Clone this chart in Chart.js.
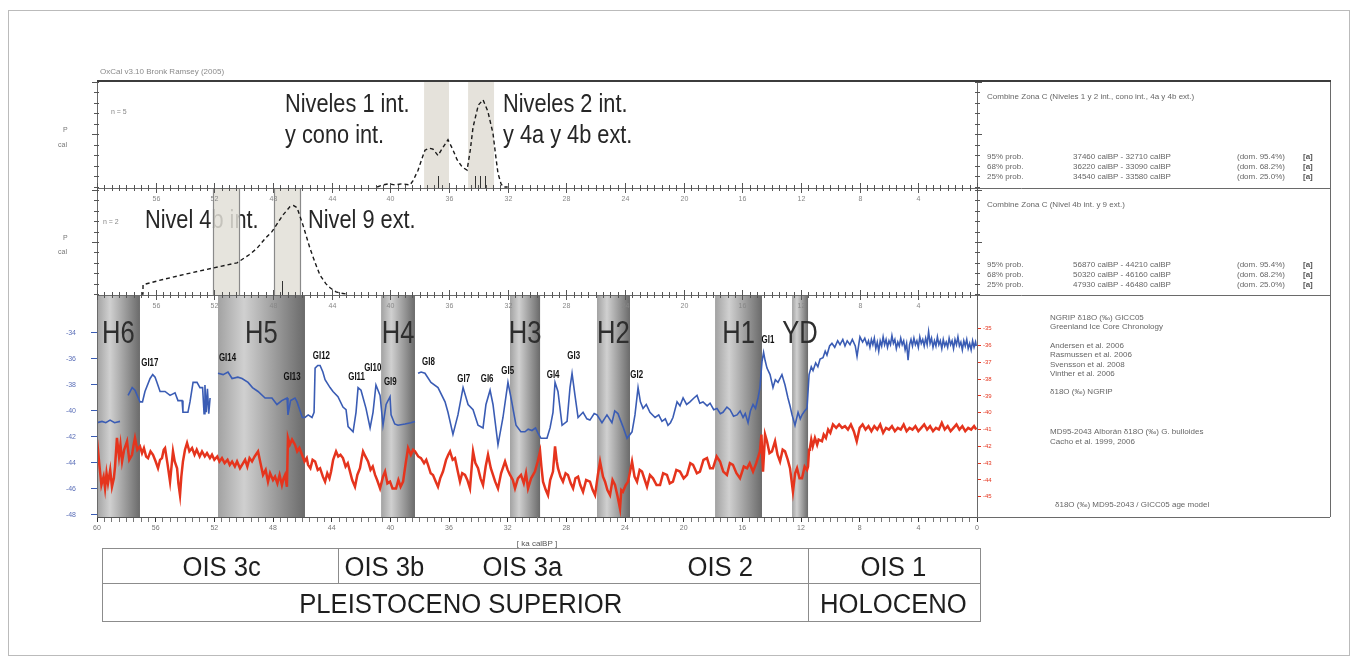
<!DOCTYPE html>
<html><head><meta charset="utf-8">
<script src="https://cdn.jsdelivr.net/npm/chart.js@4.4.1/dist/chart.umd.min.js"></script>
<style>html,body{margin:0;padding:0;background:#fff}canvas{display:block}</style>
</head><body>
<canvas id="c" width="1358" height="664"></canvas>
<script>
// ---------------- DATA ----------------
// NGRIP-type d18O (blue, left axis) : [age ka cal BP, value]
const blueSeries = [
[60.0,-40.9],[59.66,-40.8],[59.4,-40.9],[59.11,-40.7],[58.8,-40.9],[58.43,-40.8],[58.2,null],
[57.88,-38.8],[57.6,-38.2],[57.41,-38.4],[57.07,-39.3],[56.9,-39.3],[56.73,-38.5],[56.38,-37.5],[56.2,-37.2],[56.04,-37.4],[55.91,-37.8],[55.7,-38.5],[55.36,-38.5],[55.02,-38.8],[54.68,-38.6],[54.48,-39.2],[54.2,-39.2],[54.14,-40.1],[53.8,-40.1],[53.66,-39.3],[53.45,-37.8],[53.18,-37.8],[52.98,-38.2],[52.8,-38.2],[52.7,-40.2],[52.64,-38.0],[52.55,-40.1],[52.47,-38.3],[52.38,-40.2],[52.29,-39.0],[52.0,null],
[51.75,-37.1],[51.4,-37.2],[51.07,-37.0],[50.79,-37.5],[50.4,-37.4],[50.11,-37.5],[49.7,-37.8],[49.4,-38.2],[49.02,-38.5],[48.54,-39.0],[48.07,-39.0],[47.73,-39.5],[47.4,-39.2],[47.04,-39.0],[46.98,-40.3],[46.8,-39.2],[46.5,-39.0],[46.36,-39.3],[46.0,-40.5],[45.82,-40.5],[45.6,-40.3],[45.34,-40.5],[45.2,-40.1],[45.13,-36.7],[44.95,-36.5],[44.79,-36.5],[44.6,-37.0],[44.45,-37.6],[44.11,-38.2],[43.91,-38.5],[43.57,-38.9],[43.23,-39.7],[43.02,-39.9],[42.88,-41.2],[42.54,-41.6],[42.34,-40.1],[42.2,-38.2],[42.0,-38.4],[41.66,-39.8],[41.38,-41.3],[41.18,-40.1],[40.98,-38.0],[40.7,-38.8],[40.5,-41.1],[40.29,-39.5],[40.02,-38.9],[39.95,-40.3],[39.7,-41.0],[39.48,-41.1],[39.0,-41.0],[38.6,-40.9],[38.32,-40.8],[38.2,null],
[38.11,-37.1],[37.9,-37.0],[37.64,-37.1],[37.23,-37.8],[36.75,-38.2],[36.27,-39.3],[36.07,-40.1],[35.73,-41.8],[35.39,-40.3],[35.04,-38.2],[34.7,-39.5],[34.36,-39.9],[34.02,-41.1],[33.68,-41.3],[33.48,-39.5],[33.2,-38.4],[33.0,-39.5],[32.66,-42.6],[32.32,-40.5],[31.98,-37.8],[31.77,-39.0],[31.43,-41.1],[31.1,-41.6],[30.82,-41.6],[30.6,-41.4],[30.34,-41.5],[30.1,-41.3],[29.93,-41.7],[29.73,-42.1],[29.32,-42.1],[29.11,-41.3],[28.91,-40.1],[28.77,-37.8],[28.57,-38.5],[28.29,-41.1],[27.95,-40.8],[27.75,-38.2],[27.61,-37.1],[27.41,-38.8],[27.2,-40.5],[26.86,-40.1],[26.6,-40.6],[26.39,-40.7],[26.1,-40.2],[25.91,-40.3],[25.57,-40.9],[25.23,-40.3],[24.89,-40.9],[24.7,-40.0],[24.48,-40.2],[24.14,-41.2],[23.86,-42.1],[23.52,-41.6],[23.32,-40.3],[23.11,-38.2],[22.95,-39.3],[22.77,-39.8],[22.55,-39.5],[22.3,-40.1],[21.95,-40.5],[21.7,-40.3],[21.48,-40.8],[21.25,-40.6],[21.07,-41.1],[20.9,-40.9],[20.73,-40.5],[20.45,-39.3],[20.25,-39.6],[20.04,-39.0],[19.8,-39.5],[19.57,-39.3],[19.3,-39.0],[19.09,-38.8],[18.9,-39.4],[18.68,-39.3],[18.4,-39.6],[18.2,-39.4],[17.95,-39.9],[17.73,-39.8],[17.5,-40.2],[17.32,-40.1],[17.05,-39.7],[16.84,-39.9],[16.6,-40.4],[16.36,-40.3],[16.15,-40.0],[15.95,-40.5],[15.8,-40.2],[15.61,-40.9],[15.45,-40.0],[15.27,-39.5],[15.1,-39.8],[14.93,-39.0],[14.8,-38.2],[14.66,-36.2],[14.55,-35.5],[14.45,-36.1],[14.32,-36.7],[14.11,-37.2],[13.91,-38.2],[13.75,-37.6],[13.57,-37.8],[13.3,-37.2],[13.09,-38.0],[12.89,-39.0],[12.75,-39.6],[12.61,-40.3],[12.41,-41.1],[12.2,-40.1],[12.05,-40.6],[11.93,-40.3],[11.75,-40.0],[11.59,-39.8],[11.45,-37.2],
[11.3,-36.6],[11.18,-36.9],[11.0,-36.3],[10.85,-36.6],[10.7,-36.0],[10.5,-35.9],[10.35,-35.4],[10.23,-35.7],[10.05,-35.0],[9.89,-34.8],[9.7,-35.1],[9.5,-34.6],[9.34,-34.9],[9.15,-34.5],[9.0,-35.0],[8.85,-34.6],[8.66,-34.9],[8.5,-34.5],[8.3,-35.0],[8.18,-35.8],[8.05,-34.8],[7.98,-34.3],[7.8,-34.7],[7.65,-34.4],[7.5,-34.9],
[7.4,-34.6],[7.3,-35.1],[7.2,-34.5],[7.1,-34.9],[7.0,-34.4],[6.9,-35.2],[6.8,-34.7],[6.7,-35.4],[6.6,-34.6],[6.5,-35.0],[6.4,-34.3],[6.3,-34.9],[6.2,-34.5],[6.1,-35.1],[6.0,-34.6],[5.9,-34.9],[5.8,-34.2],[5.7,-34.8],[5.6,-34.5],[5.5,-35.2],[5.4,-34.7],[5.3,-35.0],[5.2,-34.4],[5.1,-34.9],[5.0,-34.6],[4.9,-35.3],[4.8,-34.8],[4.7,-36.1],[4.6,-34.9],[4.5,-34.5],[4.4,-35.0],[4.3,-34.4],[4.2,-34.9],[4.1,-34.6],[4.0,-35.1],[3.9,-34.3],[3.8,-34.8],[3.7,-34.5],[3.6,-35.0],[3.5,-34.4],[3.4,-34.9],[3.3,-33.9],[3.2,-34.8],[3.1,-34.4],[3.0,-35.1],[2.9,-34.6],[2.8,-35.0],[2.7,-34.3],[2.6,-34.9],[2.5,-34.6],[2.4,-35.2],[2.3,-34.5],[2.2,-35.0],[2.1,-34.7],[2.0,-35.1],[1.9,-34.4],[1.8,-34.9],[1.7,-34.6],[1.6,-35.2],[1.5,-34.5],[1.4,-34.9],[1.3,-34.3],[1.2,-35.0],[1.1,-34.7],[1.0,-35.3],[0.9,-34.6],[0.8,-35.0],[0.7,-34.5],[0.6,-35.2],[0.5,-34.8],[0.4,-35.3],[0.3,-34.6],[0.2,-35.1],[0.1,-34.7],[0.05,-35.0]
];
// Second d18O record (red, right axis) : [age ka cal BP, value]
const redSeries = [
[60.0,-41.6],[59.85,-43.0],[59.7,-44.3],[59.55,-43.8],[59.45,-44.5],[59.35,-43.6],[59.25,-44.2],[59.1,-43.4],[58.98,-44.4],[58.85,-43.9],[58.77,-43.2],[58.64,-41.5],[58.5,-42.6],[58.4,-41.9],[58.29,-42.9],[58.15,-42.2],[57.95,-41.7],[57.8,-42.8],[57.61,-42.5],[57.5,-41.9],[57.41,-41.5],[57.25,-42.2],[57.07,-42.0],[56.93,-42.4],[56.8,-42.1],[56.65,-42.6],[56.52,-42.7],[56.35,-42.3],[56.18,-42.5],[56.0,-42.9],[55.84,-43.3],[55.7,-42.8],[55.57,-42.7],[55.45,-42.2],[55.36,-42.1],[55.2,-43.0],[55.02,-44.1],[54.92,-43.2],[54.82,-42.3],[54.7,-42.9],[54.54,-43.3],[54.45,-44.2],[54.34,-44.9],[54.25,-43.8],[54.14,-42.9],[54.0,-42.2],[53.86,-41.8],[53.7,-42.3],[53.52,-42.1],[53.35,-42.5],[53.2,-42.2],[53.0,-42.6],[52.84,-42.3],[52.65,-42.6],[52.5,-42.4],[52.3,-42.7],[52.16,-42.5],[52.0,-42.8],[51.8,-42.6],[51.65,-42.9],[51.48,-42.7],[51.3,-43.0],[51.1,-42.8],[50.95,-43.1],[50.79,-42.9],[50.6,-43.2],[50.45,-42.9],[50.25,-43.3],[50.11,-43.1],[49.9,-42.8],[49.75,-43.2],[49.6,-42.7],[49.43,-42.9],[49.25,-42.6],[49.02,-42.3],[48.85,-43.0],[48.68,-43.7],[48.5,-43.4],[48.34,-44.1],[48.2,-43.6],[48.0,-44.0],[47.86,-43.8],[47.7,-44.2],[47.55,-43.7],[47.39,-44.3],[47.28,-43.9],[47.18,-43.7],[47.05,-44.4],[46.98,-41.5],[46.85,-41.9],[46.7,-41.6],[46.5,-41.9],[46.35,-42.3],[46.2,-42.1],[46.02,-42.5],[45.85,-42.9],[45.7,-42.7],[45.61,-43.1],[45.45,-43.3],[45.3,-42.8],[45.13,-42.9],[44.95,-43.4],[44.79,-43.3],[44.6,-43.8],[44.45,-44.1],[44.3,-43.6],[44.15,-43.9],[44.04,-43.5],[43.9,-42.8],[43.7,-42.3],[43.55,-42.6],[43.4,-42.5],[43.23,-42.7],[43.05,-43.2],[42.9,-43.0],[42.75,-43.5],[42.6,-44.0],[42.41,-44.4],[42.25,-43.7],[42.07,-43.3],[41.95,-42.7],[41.86,-42.3],[41.7,-42.6],[41.52,-42.9],[41.35,-43.4],[41.2,-43.2],[41.04,-43.7],[40.9,-44.0],[40.7,-44.5],[40.5,-43.8],[40.36,-43.5],[40.2,-44.2],[40.02,-44.1],[39.85,-44.5],[39.61,-44.5],[39.45,-44.0],[39.3,-44.4],[39.13,-44.1],[38.95,-43.0],[38.79,-42.1],[38.6,-42.5],[38.45,-42.2],[38.32,-42.3],[38.1,-42.6],[37.91,-42.7],[37.7,-43.0],[37.55,-42.8],[37.43,-43.1],[37.25,-43.6],[37.09,-43.7],[36.9,-44.1],[36.75,-44.4],[36.6,-43.9],[36.41,-43.5],[36.2,-42.8],[36.05,-42.5],[35.93,-42.3],[35.75,-42.8],[35.59,-42.7],[35.4,-43.5],[35.25,-44.1],[35.1,-43.6],[34.91,-43.7],[34.75,-44.0],[34.57,-44.5],[34.45,-43.2],[34.36,-42.3],[34.2,-43.0],[34.02,-43.3],[33.85,-43.9],[33.68,-44.3],[33.5,-43.2],[33.34,-42.5],[33.15,-43.3],[33.0,-43.7],[32.85,-44.1],[32.66,-44.5],[32.45,-43.6],[32.18,-42.9],[32.0,-43.4],[31.84,-43.7],[31.65,-44.0],[31.5,-44.5],[31.3,-43.9],[31.09,-43.7],[30.9,-44.2],[30.75,-43.6],[30.61,-44.5],[30.4,-43.9],[30.14,-43.5],[29.95,-42.9],[29.79,-42.3],[29.7,-43.2],[29.59,-44.1],[29.4,-44.6],[29.25,-44.9],[29.1,-44.0],[28.91,-43.5],[28.77,-42.0],[28.65,-42.9],[28.57,-43.3],[28.4,-43.8],[28.23,-44.1],[28.05,-43.6],[27.89,-43.7],[27.7,-44.2],[27.54,-44.5],[27.38,-43.9],[27.2,-43.8],[27.05,-44.3],[26.86,-44.7],[26.65,-44.0],[26.39,-44.1],[26.2,-44.6],[26.04,-44.9],[25.85,-43.7],[25.7,-42.9],[25.5,-43.8],[25.36,-44.1],[25.2,-44.6],[25.02,-44.9],[24.85,-44.0],[24.68,-44.3],[24.5,-45.0],[24.34,-45.7],[24.25,-44.6],[24.14,-44.7],[23.95,-44.3],[23.79,-44.1],[23.65,-43.5],[23.52,-42.9],[23.35,-43.8],[23.18,-44.1],[23.0,-43.4],[22.84,-43.5],[22.65,-44.0],[22.5,-44.4],[22.3,-43.7],[22.09,-43.9],[21.85,-44.3],[21.61,-44.3],[21.4,-43.6],[21.14,-43.7],[20.95,-44.2],[20.73,-44.1],[20.5,-43.4],[20.25,-43.5],[20.0,-43.9],[19.77,-43.7],[19.55,-43.0],[19.36,-43.1],[19.1,-43.6],[18.89,-43.5],[18.65,-42.8],[18.41,-42.7],[18.2,-43.3],[18.0,-43.3],[17.75,-42.6],[17.52,-42.9],[17.3,-43.5],[17.05,-43.7],[16.85,-43.0],[16.64,-43.1],[16.4,-43.6],[16.16,-43.9],[15.9,-43.2],[15.68,-43.3],[15.5,-43.0],[15.27,-43.5],[15.05,-43.0],[14.8,-42.3],[14.7,-41.3],[14.59,-43.5],[14.45,-41.3],[14.32,-41.7],[14.15,-42.4],[13.98,-42.3],[13.77,-41.7],[13.6,-42.5],[13.43,-42.9],[13.25,-42.2],[13.09,-42.3],[12.9,-42.8],[12.75,-43.3],[12.55,-44.7],[12.4,-43.6],[12.27,-43.3],[12.1,-43.9],[11.93,-43.9],[11.75,-43.2],[11.59,-43.4],[11.52,-43.2],[11.45,-42.2],[11.39,-42.1],[11.3,-41.6],[11.2,-42.0],[11.05,-41.5],[10.9,-41.9],[10.8,-41.6],[10.57,-41.7],[10.45,-41.3],[10.3,-41.5],[10.15,-41.0],[10.0,-41.2],[9.82,-40.7],[9.6,-40.9],[9.4,-40.7],[9.2,-40.9],
[9.0,-40.8],[8.8,-41.0],[8.6,-40.7],[8.4,-41.1],[8.2,-41.7],[8.0,-40.9],[7.8,-40.7],[7.6,-41.0],[7.4,-40.8],[7.2,-41.1],[7.0,-40.8],[6.8,-41.0],[6.6,-40.7],[6.4,-41.2],[6.2,-40.9],[6.0,-41.0],[5.8,-40.8],[5.6,-41.1],[5.4,-40.9],[5.2,-41.0],[5.0,-40.7],[4.8,-41.1],[4.6,-40.9],[4.4,-41.0],[4.2,-40.8],[4.0,-41.1],[3.8,-40.9],[3.6,-40.7],[3.4,-41.0],[3.2,-40.8],[3.0,-41.1],[2.8,-40.9],[2.6,-41.0],[2.4,-40.6],[2.2,-41.0],[2.0,-40.8],[1.8,-41.1],[1.6,-40.9],[1.4,-40.7],[1.2,-41.0],[1.0,-40.8],[0.8,-41.1],[0.6,-40.9],[0.4,-41.0],[0.2,-40.8],[0.05,-41.0]
];
// Calibrated probability distributions (relative probability 0..1)
const probTop = [[40.9,0],[40.7,0.01],[40.5,0.02],[40.1,0.03],[39.7,0.02],[39.2,0.03],[38.66,0.02],[38.45,0.06],[38.11,0.16],[37.77,0.3],[37.64,0.35],[37.35,0.37],[37.09,0.36],[36.75,0.3],[36.4,0.38],[36.07,0.45],[35.75,0.36],[35.45,0.26],[35.1,0.19],[34.77,0.16],[34.55,0.35],[34.36,0.57],[34.0,0.78],[33.68,0.83],[33.35,0.72],[33.0,0.51],[32.8,0.28],[32.66,0.13],[32.45,0.03],[32.3,0],[32.0,0]];
const probMid = [[57.0,0],[56.87,0],[56.86,0.09],[55.5,0.14],[54.0,0.19],[52.09,0.25],[50.45,0.3],[49.6,0.38],[49.09,0.44],[48.5,0.54],[48.07,0.6],[47.6,0.7],[47.32,0.76],[46.84,0.84],[46.6,0.85],[46.36,0.83],[45.95,0.66],[45.48,0.44],[45.1,0.29],[44.79,0.18],[44.4,0.1],[44.11,0.06],[43.7,0.02],[43.43,0.01],[43.0,0]];

const blueTicks = [-48,-46,-44,-42,-40,-38,-36,-34];
const redTicks  = [-45,-44,-43,-42,-41,-40,-39,-38,-37,-36,-35];

const topBandFrom = [37.7, 34.7], topBandTo = [36.0, 32.93];
const midBandFrom = [52.09, 47.93], midBandTo = [50.32, 46.16];
const topMarks = [36.75, 34.23, 33.89, 33.55];
const midMarks = [47.4];

const hNames = ['H6','H5','H4','H3','H2','H1','YD'];
const hFrom  = [60.0, 51.75, 40.63, 31.84, 25.91, 17.86, 12.61];
const hTo    = [57.07, 45.82, 38.32, 29.79, 23.66, 14.66, 11.52];

const giNames = ['GI17','GI14','GI13','GI12','GI11','GI10','GI9','GI8','GI7','GI6','GI5','GI4','GI3','GI2','GI1'];
const giAge   = [56.4,51.1,46.7,44.7,42.3,41.2,40.0,37.4,35.0,33.4,32.0,28.9,27.5,23.2,14.25];
const giD18O  = [-36.3,-35.9,-37.4,-35.8,-37.4,-36.7,-37.8,-36.2,-37.5,-37.5,-36.9,-37.2,-35.8,-37.2,-34.5];

const oisNames  = ['OIS 3c','OIS 3b','OIS 3a','OIS 2','OIS 1'];
const oisCenter = [51.5, 40.4, 31.0, 17.5, 5.7];
const oisBounds = [43.6, 11.52];
const periodNames  = ['PLEISTOCENO SUPERIOR','HOLOCENO'];
const periodCenter = [35.2, 5.7];
const periodBounds = [11.52];

const panelTexts = [
  {age:47.18, lines:['Niveles 1 int.','y cono int.'], panel:0},
  {age:32.32, lines:['Niveles 2 int.','y 4a y 4b ext.'], panel:0},
  {age:56.73, lines:['Nivel 4b int.'], panel:1},
  {age:45.61, lines:['Nivel 9 ext.'], panel:1}
];
const rightTop = {title:'Combine Zona C (Niveles 1 y 2 int., cono int., 4a y 4b ext.)',
  rows:[['95% prob.','37460 calBP - 32710 calBP','(dom. 95.4%)','[a]'],
        ['68% prob.','36220 calBP - 33090 calBP','(dom. 68.2%)','[a]'],
        ['25% prob.','34540 calBP - 33580 calBP','(dom. 25.0%)','[a]']]};
const rightMid = {title:'Combine Zona C (Nivel 4b int. y 9 ext.)',
  rows:[['95% prob.','56870 calBP - 44210 calBP','(dom. 95.4%)','[a]'],
        ['68% prob.','50320 calBP - 46160 calBP','(dom. 68.2%)','[a]'],
        ['25% prob.','47930 calBP - 46480 calBP','(dom. 25.0%)','[a]']]};
const rightBottom = ['NGRIP \u03b418O (\u2030) GICC05','Greenland Ice Core Chronology','','Andersen et al. 2006','Rasmussen et al. 2006','Svensson et al. 2008','Vinther et al. 2006','','\u03b418O (\u2030) NGRIP','','','MD95-2043 Alborán \u03b418O (\u2030) G. bulloides','Cacho et al. 1999, 2006'];

// ---------------- CHART ----------------
const toXY = arr => arr.map(p => ({x:p[0], y:p[1]}));
const FONT = '"Liberation Sans", Arial, sans-serif';

function txt(ctx, s, x, y, size, color, opts={}) {
  ctx.save();
  ctx.font = (opts.bold?'bold ':'') + size + 'px ' + FONT;
  ctx.fillStyle = color; ctx.textBaseline = opts.base || 'alphabetic';
  ctx.textAlign = opts.align || 'left';
  ctx.translate(x, y); ctx.scale(opts.sx || 1, 1);
  ctx.fillText(s, 0, 0); ctx.restore();
}

const deco = {
  id:'deco',
  beforeDatasetsDraw(chart){
    const {ctx, chartArea:ca, scales} = chart, xs = scales.x;
    const P1 = ca.top + 108, P2 = ca.top + 215;
    const px = a => xs.getPixelForValue(a);
    panelTexts.forEach(t => {
      const base = t.panel === 0 ? ca.top + 32 : P1 + 40;
      t.lines.forEach((l,i) => txt(ctx, l, px(t.age), base + i*31, 25, '#262626', {sx:0.87}));
    });
    ctx.fillStyle = 'rgba(226,223,215,0.9)';
    topBandFrom.forEach((f,i)=>{const a=px(f), b=px(topBandTo[i]); ctx.fillRect(a, ca.top+2, b-a, P1-ca.top-2);});
    midBandFrom.forEach((f,i)=>{const a=px(f), b=px(midBandTo[i]);
      ctx.fillStyle = 'rgba(226,223,215,0.85)'; ctx.fillRect(a, P1, b-a, P2-P1);
      ctx.strokeStyle = '#8a8a8a'; ctx.lineWidth = 1.2;
      ctx.beginPath(); ctx.moveTo(Math.round(a)+0.5, P1); ctx.lineTo(Math.round(a)+0.5, P2);
      ctx.moveTo(Math.round(b)+0.5, P1); ctx.lineTo(Math.round(b)+0.5, P2); ctx.stroke();});
    hFrom.forEach((f,i)=>{
      const a = px(f), b = px(hTo[i]);
      const g = ctx.createLinearGradient(a,0,b,0);
      g.addColorStop(0,'#a2a2a2'); g.addColorStop(0.3,'#d0d0d0'); g.addColorStop(1,'#6a6a6a');
      ctx.fillStyle = g; ctx.fillRect(a, P2, b-a, ca.bottom-P2);
      txt(ctx, hNames[i], (a+b)/2, P2+48, 32, '#2e2e2e', {align:'center', sx:0.8});
    });
  },
  afterDatasetsDraw(chart){
    const {ctx, chartArea:ca, scales} = chart, xs = scales.x;
    const P1 = ca.top + 108, P2 = ca.top + 215, RR = ca.right + 353;
    const px = a => xs.getPixelForValue(a);
    ctx.save();
    giNames.forEach((n,i)=> txt(ctx, n, px(giAge[i]), scales.yB.getPixelForValue(giD18O[i]), 11, '#111', {bold:true, sx:0.72, align:'center', base:'middle'}));
    ctx.strokeStyle = '#333'; ctx.lineWidth = 1;
    topMarks.forEach(a=>{const x=Math.round(px(a))+0.5; ctx.beginPath(); ctx.moveTo(x,P1); ctx.lineTo(x,P1-12); ctx.stroke();});
    midMarks.forEach(a=>{const x=Math.round(px(a))+0.5; ctx.beginPath(); ctx.moveTo(x,P2); ctx.lineTo(x,P2-14); ctx.stroke();});
    ctx.strokeStyle = '#bbb'; ctx.lineWidth = 1;
    ctx.strokeRect(8.5, 10.5, 1341, 645);
    ctx.strokeStyle = '#6a6a6a'; ctx.lineWidth = 1;
    ctx.beginPath();
    ctx.moveTo(ca.left+0.5, ca.top); ctx.lineTo(ca.left+0.5, ca.bottom);
    ctx.moveTo(ca.right+0.5, ca.top); ctx.lineTo(ca.right+0.5, ca.bottom);
    ctx.moveTo(RR+0.5, ca.top); ctx.lineTo(RR+0.5, ca.bottom);
    ctx.moveTo(ca.left, P1+0.5); ctx.lineTo(RR, P1+0.5);
    ctx.moveTo(ca.left, P2+0.5); ctx.lineTo(RR, P2+0.5);
    ctx.moveTo(ca.right, ca.bottom+0.5); ctx.lineTo(RR, ca.bottom+0.5);
    ctx.stroke();
    ctx.strokeStyle = '#3c3c3c'; ctx.lineWidth = 2;
    ctx.beginPath(); ctx.moveTo(ca.left, ca.top+1); ctx.lineTo(RR+1, ca.top+1); ctx.stroke();
    ctx.strokeStyle = '#555'; ctx.lineWidth = 1;
    for (let a = 0; a <= 60.001; a += 0.5) {
      const x = Math.round(px(a)) + 0.5, major = Math.abs(a % 4) < 1e-6;
      [P1, P2].forEach(y => { ctx.beginPath(); ctx.moveTo(x, y-(major?5:3)); ctx.lineTo(x, y+(major?5:3)); ctx.stroke(); });
      if (major && a > 0 && a < 60) [P1, P2].forEach(y => txt(ctx, String(a), x, y+13, 7, '#888', {align:'center'}));
    }
    ['yTop','yMid'].forEach(id => {
      const s = scales[id];
      for (let v = 0; v <= 1.0001; v += 0.1) {
        const y = Math.round(s.getPixelForValue(v)) + 0.5;
        const len = (Math.abs(v-0.5) < 1e-6 || Math.abs(v-1) < 1e-6) ? 5 : 3;
        ctx.beginPath(); ctx.moveTo(ca.left-len, y); ctx.lineTo(ca.left+2, y);
        ctx.moveTo(ca.right-2, y); ctx.lineTo(ca.right+len, y); ctx.stroke();
      }
    });
    txt(ctx, 'P', 63, ca.top+52, 7, '#777'); txt(ctx, 'cal', 58, ca.top+67, 7, '#777');
    txt(ctx, 'P', 63, P1+52, 7, '#777'); txt(ctx, 'cal', 58, P1+66, 7, '#777');
    txt(ctx, 'n = 5', ca.left+14, ca.top+34, 7, '#888');
    txt(ctx, 'n = 2', ca.left+6, P1+36, 7, '#888');
    txt(ctx, 'OxCal v3.10 Bronk Ramsey (2005)', ca.left+3, ca.top-6, 8, '#8a8a8a');
    const rx = ca.right + 10;
    [[rightTop, ca.top], [rightMid, P1]].forEach(([p, y0]) => {
      txt(ctx, p.title, rx, y0+19, 8, '#666');
      p.rows.forEach((r,i) => {
        const y = y0 + 79 + i*10;
        txt(ctx, r[0], rx, y, 8, '#666'); txt(ctx, r[1], rx+86, y, 8, '#666');
        txt(ctx, r[2], rx+250, y, 8, '#666'); txt(ctx, r[3], rx+316, y, 8, '#555', {bold:true});
      });
    });
    rightBottom.forEach((l,i) => { if (l) txt(ctx, l, rx+63, P2+25 + i*9.3 + (i>=11?12:0), 8, '#666'); });
    txt(ctx, '\u03b418O (\u2030) MD95-2043 / GICC05 age model', rx+68, ca.bottom-10, 8, '#666');
    const tl = ca.left + 5, tr = ca.right + 3, tt = 548, tm = 583, tb = 621;
    ctx.strokeStyle = '#8c8c8c'; ctx.lineWidth = 1;
    ctx.strokeRect(tl+0.5, tt+0.5, tr-tl, tb-tt);
    ctx.beginPath(); ctx.moveTo(tl, tm+0.5); ctx.lineTo(tr, tm+0.5);
    oisBounds.forEach(a => { const x = Math.round(px(a))+0.5; ctx.moveTo(x, tt); ctx.lineTo(x, tm); });
    periodBounds.forEach(a => { const x = Math.round(px(a))+0.5; ctx.moveTo(x, tm); ctx.lineTo(x, tb); });
    ctx.stroke();
    oisNames.forEach((n,i) => txt(ctx, n, px(oisCenter[i]), tm-7, 27, '#1e1e1e', {align:'center', sx:0.95}));
    periodNames.forEach((n,i) => txt(ctx, n, px(periodCenter[i]), tb-8, 27, '#1e1e1e', {align:'center', sx:0.95}));
    ctx.restore();
  }
};

new Chart(document.getElementById('c'), {
  type:'line',
  data:{ datasets:[
    {data:toXY(blueSeries), yAxisID:'yB', borderColor:'#3a5cb4', borderWidth:1.6, pointRadius:0, spanGaps:false},
    {data:toXY(redSeries), yAxisID:'yR', borderColor:'#e5341d', borderWidth:2.5, pointRadius:0},
    {data:toXY(probTop), yAxisID:'yTop', borderColor:'#1a1a1a', borderWidth:1.4, borderDash:[4,3], pointRadius:0},
    {data:toXY(probMid), yAxisID:'yMid', borderColor:'#1a1a1a', borderWidth:1.4, borderDash:[4,3], pointRadius:0}
  ]},
  options:{
    responsive:false, devicePixelRatio:1, animation:false,
    layout:{padding:{left:40, right:359, top:80, bottom:115}},
    plugins:{legend:{display:false}, tooltip:{enabled:false}},
    elements:{line:{tension:0}},
    scales:{
      x:{type:'linear', min:0, max:60, reverse:true,
        afterFit:s=>{s.height=32;},
        ticks:{stepSize:0.5, autoSkip:false, maxRotation:0, font:{size:7, family:FONT}, color:'#777', padding:2,
          callback:v => (Math.abs(v%4)<1e-6 ? String(v) : '')},
        grid:{drawOnChartArea:false, tickLength:5, tickColor:c=> (c.tick && Math.abs(c.tick.value%4)<1e-6)?'#333':'#777'},
        border:{color:'#555'},
        title:{display:true, text:'[ ka calBP ]', font:{size:8, family:FONT}, color:'#555', padding:{top:1,bottom:0}}},
      yB:{type:'linear', position:'left', min:-48.154, max:-14.54,
        afterFit:s=>{s.width=57;},
        afterBuildTicks:s=>{s.ticks = blueTicks.map(v => ({value:v}));},
        ticks:{font:{size:7, family:FONT}, color:'#5b6fb8', padding:15, callback:v=>String(Math.round(v))},
        grid:{drawOnChartArea:false, tickLength:6, tickColor:'#3a5cb4'}, border:{color:'#555'}},
      yR:{type:'linear', position:'right', min:-46.2, max:-20.22,
        afterFit:s=>{s.width=22;},
        afterBuildTicks:s=>{s.ticks = redTicks.map(v => ({value:v}));},
        ticks:{font:{size:6, family:FONT}, color:'#e5341d', padding:2, callback:v=>String(Math.round(v))},
        grid:{drawOnChartArea:false, tickLength:4, tickColor:'#e5341d'}, border:{color:'#555'}},
      yTop:{type:'linear', display:false, min:-3.143, max:1.019},
      yMid:{type:'linear', display:false, min:-2.144, max:2.058}
    }
  },
  plugins:[deco]
});
</script>
</body></html>
